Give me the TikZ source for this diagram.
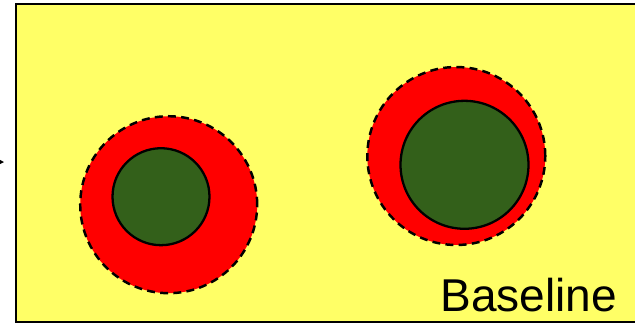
\documentclass[tikz,border=0pt]{standalone}
\usepackage{fontspec}
\setmainfont{Liberation Sans}
\usetikzlibrary{arrows.meta}
\definecolor{fondo}{RGB}{255,255,102}
\definecolor{rojo}{RGB}{255,0,0}
\definecolor{verde}{RGB}{51,96,26}
\begin{document}
\begin{tikzpicture}[x=0.02cm,y=-0.02cm]
    \useasboundingbox (0,0) rectangle (635,325);
    % Fondo
    \draw[fill=fondo, line width=1.3pt] (16,4) rectangle (640,322);
    % Flecha de entrada
    \draw[-{Stealth[length=4pt,width=4pt]}, line width=0.8pt] (-10,162) -- (4,162);
    % Círculo izquierdo
    \draw[fill=rojo, line width=1.4pt, dash pattern=on 4.5pt off 3pt] (168.7,204.7) circle (1.77cm);
    \draw[fill=verde, line width=1.3pt] (161,196.7) circle (0.97cm);
    % Círculo derecho
    \draw[fill=rojo, line width=1.4pt, dash pattern=on 4.5pt off 3pt] (456.3,156) circle (1.78cm);
    \draw[fill=verde, line width=1.3pt] (464.5,164.8) circle (1.28cm);
    % Etiqueta
    \node[anchor=base west, inner sep=0pt, font=\fontsize{26.2}{30}\selectfont] (etiqueta) at (440,311) {Baseline};
\end{tikzpicture}
\end{document}
